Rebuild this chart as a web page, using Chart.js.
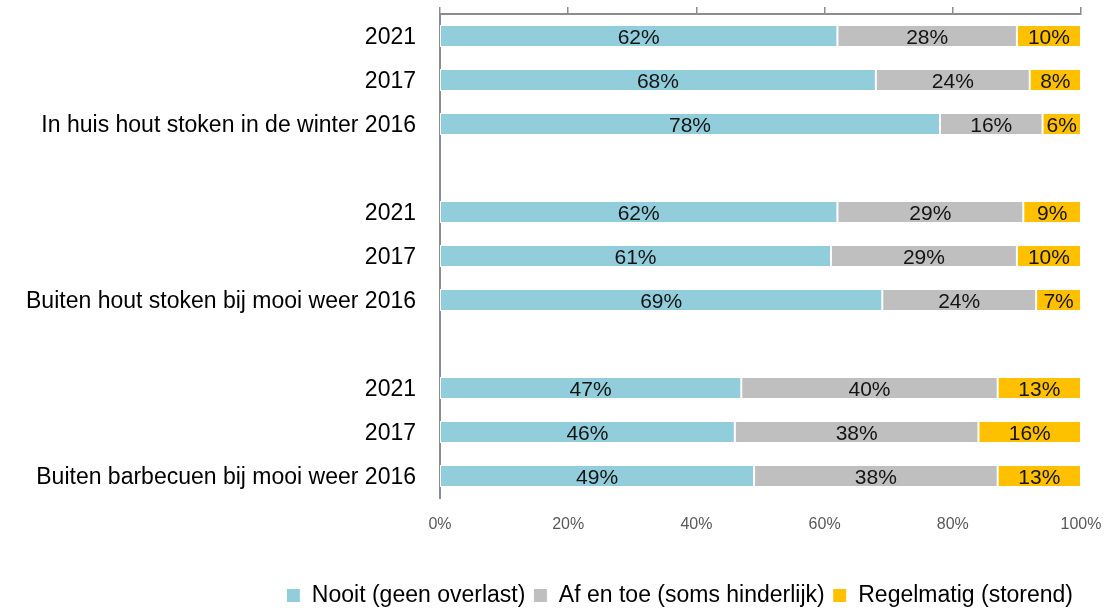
<!DOCTYPE html>
<html lang="nl">
<head>
    <meta charset="UTF-8">
    <title>Overlast van houtrook en barbecue</title>
    <style>
        body {
            margin: 0;
            padding: 0;
            background: #fff;
        }

        .wrap {
            width: 1107px;
            height: 608px;
        }
    </style>
    <script src="https://cdn.jsdelivr.net/npm/chart.js"></script>
</head>
<body>
    <div class="wrap">
        <canvas id="overlast-chart" width="1107" height="608"></canvas>
    </div>
<script>
    // categories, top to bottom (empty strings are the gaps between groups)
    var categories = [
        '2021', '2017', 'In huis hout stoken in de winter 2016', '',
        '2021', '2017', 'Buiten hout stoken bij mooi weer 2016', '',
        '2021', '2017', 'Buiten barbecuen bij mooi weer 2016'
    ];

    var nooit      = [62, 68, 78, null, 62, 61, 69, null, 47, 46, 49];
    var afEnToe    = [28, 24, 16, null, 29, 29, 24, null, 40, 38, 38];
    var regelmatig = [10, 8, 6, null, 9, 10, 7, null, 13, 16, 13];

    var xTicks = [0, 20, 40, 60, 80, 100];

    var fontName = "'Liberation Sans', Arial, sans-serif";
    var axisGrey = '#8c8c8c';

    // draws the percentage inside each bar segment
    var barLabels = {
        id: 'barLabels',
        afterDatasetsDraw: function(chart) {
            var ctx = chart.ctx;
            ctx.save();
            ctx.font = '21px ' + fontName;
            ctx.fillStyle = '#141414';
            ctx.textAlign = 'center';
            ctx.textBaseline = 'middle';
            chart.data.datasets.forEach(function(ds, i) {
                var meta = chart.getDatasetMeta(i);
                meta.data.forEach(function(bar, j) {
                    var v = ds.data[j];
                    if (v === null || v === undefined) return;
                    var p = bar.getCenterPoint();
                    ctx.fillText(v + '%', p.x, p.y + 2);
                });
            });
            ctx.restore();
        }
    };

    var ctx = document.getElementById('overlast-chart').getContext('2d');

    var myChart = new Chart(ctx, {
        type: 'bar',
        data: {
            labels: categories,
            datasets: [
                { label: 'Nooit (geen overlast)', data: nooit, backgroundColor: '#92cddc' },
                { label: 'Af en toe (soms hinderlijk)', data: afEnToe, backgroundColor: '#bfbfbf' },
                { label: 'Regelmatig (storend)', data: regelmatig, backgroundColor: '#ffc000' }
            ]
        },
        options: {
            indexAxis: 'y',
            responsive: false,
            animation: false,
            layout: { padding: { left: 0, right: 26, top: 0, bottom: 0 } },
            datasets: {
                bar: {
                    categoryPercentage: 1,
                    barPercentage: 0.5,
                    borderColor: '#ffffff',
                    borderWidth: 1,
                    borderSkipped: false
                }
            },
            scales: {
                x: {
                    stacked: true,
                    min: 0,
                    max: 100,
                    position: 'bottom',
                    afterBuildTicks: function(scale) {
                        scale.ticks = xTicks.map(function(v) { return { value: v }; });
                    },
                    afterFit: function(scale) {
                        scale.height = 78;
                        scale.paddingLeft = 0;
                        scale.paddingRight = 0;
                    },
                    grid: { display: false, drawTicks: false },
                    border: { display: false },
                    ticks: {
                        padding: 17,
                        color: '#595959',
                        font: { family: fontName, size: 16 },
                        callback: function(v) { return v + '%'; }
                    }
                },
                xTop: {
                    type: 'linear',
                    min: 0,
                    max: 100,
                    position: 'top',
                    afterBuildTicks: function(scale) {
                        scale.ticks = xTicks.map(function(v) { return { value: v }; });
                    },
                    afterFit: function(scale) {
                        scale.height = 14;
                        scale.paddingLeft = 0;
                        scale.paddingRight = 0;
                    },
                    grid: { drawOnChartArea: false, drawTicks: true, tickLength: 7, color: axisGrey, lineWidth: 1.5 },
                    border: { display: true, color: axisGrey, width: 2 },
                    ticks: { display: false }
                },
                y: {
                    stacked: true,
                    afterFit: function(scale) {
                        scale.width = 440;
                        scale.paddingTop = 0;
                        scale.paddingBottom = 0;
                    },
                    grid: { display: false, drawTicks: false },
                    border: { display: true, color: axisGrey, width: 2 },
                    ticks: {
                        padding: 24,
                        labelOffset: 2,
                        color: '#000000',
                        font: { family: fontName, size: 23 }
                    }
                }
            },
            plugins: {
                legend: {
                    position: 'bottom',
                    align: 'end',
                    maxHeight: 32,
                    labels: {
                        boxWidth: 14,
                        boxHeight: 14,
                        padding: 8,
                        color: '#000000',
                        font: { family: fontName, size: 23 }
                    }
                },
                tooltip: { enabled: false }
            }
        },
        plugins: [barLabels]
    });
</script>
</body>
</html>
